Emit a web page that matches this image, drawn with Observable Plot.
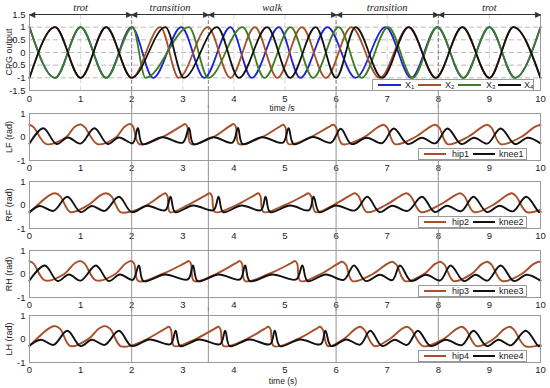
<!DOCTYPE html>
<html>
<head>
<meta charset="utf-8">
<script src="https://cdn.jsdelivr.net/npm/d3@7"></script>
<script src="https://cdn.jsdelivr.net/npm/@observablehq/plot@0.6"></script>
<style>
html,body{margin:0;padding:0;background:#fff;}
#wrap{position:relative;width:550px;height:388px;overflow:hidden;font-family:"Liberation Sans",Arial,sans-serif;color:#222;}
#wrap svg{position:absolute;left:0;overflow:hidden;}
.ytitle{position:absolute;font-size:9px;white-space:nowrap;line-height:1;transform:translate(-50%,-50%) rotate(-90deg);}
.xtitle{position:absolute;font-size:8.5px;white-space:nowrap;line-height:1;transform:translate(-50%,-50%);}
.leg{position:absolute;background:#fff;border:1px solid #9a9a9a;box-sizing:border-box;font-size:9px;}
.leg .ln{position:absolute;height:0;border-top:2px solid;top:50%;margin-top:-1px;}
.leg .tx{position:absolute;top:50%;transform:translateY(-50%);white-space:nowrap;line-height:1;}
.leg sub{font-size:6px;vertical-align:-1px;}
</style>
</head>
<body>
<div id="wrap"></div>
<script>
// ---------- data ----------
const timeTicks = [0,1,2,3,4,5,6,7,8,9,10];
const cpgTicks = [-1.5,-1,-0.5,0,0.5,1,1.5];
const cpgGrid = [-1,-0.5,0,0.5,1];
const timeGrid = [1,2,3,4,5,6,7,8,9];
const jointTicks = [-1,0,1];
const phaseNames = ["trot","transition","walk","transition","trot"];
const phaseStart = [0,2,3.5,6,8];
const phaseEnd = [2,3.5,6,8,10];
const phaseBounds = [2,3.5,6,8];

const cpgX1 = [[0,1],[0.5,-1],[1,1],[1.5,-1],[2,1],[2.42,-1],[2.97,1],[3.42,-1],[3.93,1],[4.35,-1],[4.88,1],[5.3,-1],[5.83,1],[6.38,-1],[6.97,1],[7.47,-1],[7.98,1],[8.49,-1],[9,1],[9.5,-1],[10,1]];
const cpgX2 = [[0,-1],[0.5,1],[1,-1],[1.5,1],[2,-1],[2.56,1],[2.92,-1],[3.49,1],[3.93,-1],[4.41,1],[4.85,-1],[5.33,1],[5.8,-1],[6.3,1],[6.85,-1],[7.42,1],[7.95,-1],[8.47,1],[9,-1],[9.47,1],[10,-1]];
const cpgX3 = [[0,1],[0.5,-1],[1,1],[1.5,-1],[2.02,1],[2.27,-1],[3.12,1],[3.5,-1],[4.17,1],[4.6,-1],[5.11,1],[5.55,-1],[6.05,1],[6.5,-1],[7.02,1],[7.5,-1],[7.98,1],[8.49,-1],[9,1],[9.5,-1],[10,1]];
const cpgX4 = [[0,-1],[0.5,1],[1,-1],[1.5,1],[2,-1],[2.66,1],[3.02,-1],[3.67,1],[4.1,-1],[4.65,1],[5.1,-1],[5.6,1],[6.0,-1],[6.38,1],[6.9,-1],[7.42,1],[7.95,-1],[8.47,1],[9,-1],[9.47,1],[10,-1]];

const hip1 = [[0,0.53],[0.08,0.42],[0.33,-0.3],[0.72,0.0],[0.88,0.43],[1.0,0.53],[1.08,0.42],[1.33,-0.3],[1.7,0.0],[1.86,0.44],[1.98,0.55],[2.03,0.43],[2.15,-0.3],[2.6,0.0],[2.96,0.45],[3.05,0.55],[3.09,0.42],[3.16,-0.3],[3.6,0.0],[3.91,0.45],[4.0,0.55],[4.04,0.42],[4.1,-0.3],[4.55,0.0],[4.88,0.42],[4.97,0.52],[5.01,0.4],[5.07,-0.3],[5.5,0.0],[5.85,0.42],[5.95,0.52],[6.0,0.4],[6.12,-0.3],[6.55,0.0],[6.82,0.42],[6.93,0.52],[7.0,0.4],[7.15,-0.3],[7.55,0.0],[7.83,0.42],[7.94,0.52],[8.02,0.4],[8.18,-0.3],[8.58,0.0],[8.85,0.42],[8.96,0.52],[9.04,0.4],[9.22,-0.3],[9.62,0.0],[9.88,0.42],[10,0.52]];
const knee1 = [[0,-0.28],[0.27,0.37],[0.53,-0.3],[0.75,-0.02],[1.0,-0.28],[1.27,0.37],[1.53,-0.3],[1.75,-0.02],[2.02,-0.26],[2.12,0.38],[2.21,-0.3],[2.6,-0.01],[3.0,-0.24],[3.12,0.38],[3.21,-0.3],[3.6,-0.01],[3.97,-0.24],[4.08,0.38],[4.17,-0.3],[4.55,-0.01],[4.96,-0.24],[5.07,0.37],[5.17,-0.3],[5.55,0.0],[5.9,-0.24],[6.09,0.35],[6.3,-0.3],[6.6,-0.03],[6.9,-0.26],[7.13,0.36],[7.4,-0.3],[7.68,-0.03],[7.94,-0.27],[8.18,0.36],[8.45,-0.3],[8.7,-0.03],[8.96,-0.28],[9.22,0.36],[9.5,-0.3],[9.75,-0.03],[10,-0.27]];
const hip2 = [[0,-0.33],[0.38,0.4],[0.5,0.5],[0.6,0.38],[0.8,-0.3],[1.15,0.0],[1.38,0.4],[1.5,0.5],[1.6,0.38],[1.78,-0.3],[2.0,-0.27],[2.3,0.0],[2.57,0.4],[2.66,0.5],[2.7,0.38],[2.75,-0.3],[3.1,0.0],[3.44,0.4],[3.53,0.5],[3.57,0.38],[3.63,-0.3],[4.05,0.0],[4.39,0.4],[4.48,0.5],[4.52,0.38],[4.58,-0.3],[5.0,0.0],[5.37,0.4],[5.46,0.5],[5.51,0.38],[5.6,-0.3],[5.95,0.0],[6.27,0.4],[6.37,0.5],[6.44,0.38],[6.6,-0.3],[6.97,0.0],[7.27,0.4],[7.38,0.5],[7.46,0.38],[7.66,-0.3],[8.02,0.0],[8.32,0.4],[8.43,0.5],[8.51,0.38],[8.7,-0.3],[9.07,0.0],[9.33,0.4],[9.44,0.5],[9.52,0.38],[9.73,-0.3],[10,-0.2]];
const knee2 = [[0,-0.3],[0.2,-0.04],[0.47,-0.25],[0.74,0.35],[1.0,-0.3],[1.22,-0.04],[1.47,-0.25],[1.75,0.35],[2.0,-0.3],[2.3,-0.03],[2.66,-0.22],[2.76,0.35],[2.85,-0.3],[3.2,-0.02],[3.6,-0.22],[3.7,0.35],[3.79,-0.3],[4.15,-0.02],[4.53,-0.22],[4.62,0.35],[4.71,-0.3],[5.1,-0.02],[5.47,-0.22],[5.56,0.35],[5.67,-0.3],[6.0,-0.02],[6.37,-0.23],[6.61,0.35],[6.85,-0.3],[7.1,-0.03],[7.4,-0.25],[7.68,0.35],[7.93,-0.3],[8.17,-0.03],[8.45,-0.26],[8.69,0.35],[8.95,-0.3],[9.2,-0.03],[9.46,-0.27],[9.72,0.35],[9.97,-0.3],[10,-0.29]];
const hip3 = [[0,0.55],[0.08,0.44],[0.3,-0.27],[0.68,0.0],[0.88,0.45],[1.0,0.55],[1.08,0.44],[1.3,-0.27],[1.68,0.0],[1.88,0.45],[2.0,0.55],[2.05,0.43],[2.13,-0.3],[2.6,0.0],[3.03,0.45],[3.12,0.55],[3.16,0.43],[3.22,-0.3],[3.65,0.0],[4.03,0.45],[4.12,0.55],[4.16,0.43],[4.22,-0.3],[4.68,0.0],[5.11,0.45],[5.2,0.55],[5.24,0.43],[5.3,-0.3],[5.7,0.0],[6.02,0.42],[6.12,0.52],[6.19,0.4],[6.32,-0.3],[6.72,0.0],[6.99,0.42],[7.1,0.52],[7.18,0.4],[7.35,-0.3],[7.72,0.0],[7.93,0.42],[8.04,0.52],[8.12,0.4],[8.3,-0.3],[8.65,0.0],[8.85,0.42],[8.96,0.52],[9.04,0.4],[9.25,-0.3],[9.63,0.0],[9.86,0.42],[9.97,0.52],[10,0.51]];
const knee3 = [[0,-0.28],[0.3,0.36],[0.55,-0.3],[0.77,-0.02],[1.0,-0.28],[1.3,0.36],[1.55,-0.3],[1.77,-0.02],[2.02,-0.25],[2.14,0.36],[2.23,-0.3],[2.65,-0.02],[3.1,-0.23],[3.2,0.36],[3.29,-0.3],[3.7,-0.02],[4.12,-0.23],[4.22,0.36],[4.31,-0.3],[4.75,-0.02],[5.22,-0.23],[5.34,0.36],[5.44,-0.3],[5.8,-0.02],[6.15,-0.25],[6.35,0.36],[6.58,-0.3],[6.86,-0.03],[7.1,-0.26],[7.25,0.36],[7.47,-0.3],[7.76,-0.03],[8.04,-0.27],[8.24,0.36],[8.5,-0.3],[8.73,-0.03],[8.96,-0.28],[9.22,0.36],[9.48,-0.3],[9.73,-0.03],[10,-0.28]];
const hip4 = [[0,-0.3],[0.38,0.45],[0.5,0.55],[0.6,0.43],[0.8,-0.3],[1.15,0.0],[1.36,0.45],[1.48,0.55],[1.58,0.43],[1.78,-0.3],[2.0,-0.27],[2.3,0.0],[2.64,0.42],[2.73,0.52],[2.77,0.4],[2.83,-0.3],[3.25,0.0],[3.61,0.42],[3.7,0.52],[3.74,0.4],[3.8,-0.3],[4.25,0.0],[4.59,0.42],[4.68,0.52],[4.72,0.4],[4.78,-0.3],[5.25,0.0],[5.6,0.42],[5.69,0.52],[5.74,0.4],[5.84,-0.3],[6.15,0.0],[6.37,0.42],[6.47,0.52],[6.55,0.4],[6.75,-0.3],[7.05,0.0],[7.28,0.42],[7.39,0.52],[7.47,0.4],[7.7,-0.3],[8.1,0.0],[8.35,0.42],[8.46,0.52],[8.54,0.4],[8.75,-0.3],[9.08,0.0],[9.29,0.42],[9.4,0.52],[9.48,0.4],[9.7,-0.3],[10,-0.25]];
const knee4 = [[0,-0.28],[0.22,-0.03],[0.47,-0.25],[0.74,0.35],[1.0,-0.3],[1.22,-0.03],[1.47,-0.25],[1.75,0.35],[2.0,-0.3],[2.35,-0.02],[2.76,-0.22],[2.86,0.35],[2.95,-0.3],[3.32,-0.02],[3.73,-0.22],[3.83,0.35],[3.92,-0.3],[4.3,-0.02],[4.71,-0.22],[4.8,0.35],[4.9,-0.3],[5.3,-0.02],[5.7,-0.22],[5.79,0.35],[5.9,-0.3],[6.2,-0.02],[6.47,-0.24],[6.67,0.35],[6.9,-0.3],[7.15,-0.03],[7.39,-0.25],[7.6,0.35],[7.85,-0.3],[8.15,-0.03],[8.46,-0.26],[8.69,0.35],[8.95,-0.3],[9.18,-0.03],[9.42,-0.27],[9.71,0.35],[9.96,-0.3],[10,-0.29]];

const cpgNames = ["X1","X2","X3","X4"];
const cpgColors = ["#1e22d2","#a8502a","#3c7d22","#111111"];
const hipColor = "#a8502a", kneeColor = "#111111";

// ---------- drawing ----------
const wrap = document.getElementById("wrap");
const phases = phaseNames.map((name,i)=>({name, start:phaseStart[i], end:phaseEnd[i]}));
const fx = d => d[0], fy = d => d[1];
const fontFam = "Liberation Sans, Arial, sans-serif";
const xOpt = (pad) => ({domain:[0,10], ticks:timeTicks, tickSize:0, tickPadding:pad, tickFormat:d=>String(d), label:null});

function place(svg, top){ svg.style.top = top + "px"; wrap.appendChild(svg); }

// Panel 1: CPG output
const cpgSeries = [cpgX1,cpgX2,cpgX3,cpgX4];
const p1 = Plot.plot({
  width:550, height:108, marginLeft:29, marginRight:10, marginTop:14, marginBottom:18,
  style:{background:"transparent", fontSize:"9.5px", fontFamily:fontFam, color:"#222"},
  x:xOpt(5),
  y:{domain:[-1.5,1.5], ticks:cpgTicks, tickSize:0, tickPadding:4, tickFormat:d=>String(d), label:null},
  marks:[
    Plot.ruleY(cpgGrid, {stroke:"#aaa", strokeDasharray:"5,3", strokeWidth:0.8}),
    Plot.ruleX(timeGrid, {stroke:"#ccc", strokeDasharray:"5,3", strokeWidth:0.8}),
    Plot.ruleX(phaseBounds, {y1:1.5, y2:-1.5, stroke:"#777", strokeDasharray:"4,2", strokeWidth:0.9}),
    Plot.ruleX(phaseBounds, {y1:-1.5, y2:-3, stroke:"#888", strokeWidth:0.9}),
    ...cpgSeries.map((s,i)=>Plot.line(s, {x:fx, y:fy, stroke:cpgColors[i], strokeWidth:1.8, curve:"monotone-x"})),
    Plot.frame({stroke:"#9a9a9a"}),
    Plot.link(phases, {x1:"start", x2:"end", y1:1.5, y2:1.5, stroke:"#333", strokeWidth:1}),
    Plot.text(phases, {x:"start", y:1.5, text:()=>"◀", textAnchor:"start", fontSize:8, fill:"#333", dx:-0.5}),
    Plot.text(phases, {x:"end", y:1.5, text:()=>"▶", textAnchor:"end", fontSize:8, fill:"#333", dx:0.5}),
    Plot.text(phases, {x:d=>(d.start+d.end)/2, y:1.5, dy:-7, text:"name", fontStyle:"italic", fontFamily:"Liberation Serif, Times New Roman, serif", fontSize:10.5, fill:"#222"})
  ]
});
place(p1, 0);

// Joint panels
const joints = [
  {title:"LF (rad)", hip:hip1, knee:knee1, hl:"hip1", kl:"knee1", top:105},
  {title:"RF (rad)", hip:hip2, knee:knee2, hl:"hip2", kl:"knee2", top:173},
  {title:"RH (rad)", hip:hip3, knee:knee3, hl:"hip3", kl:"knee3", top:242},
  {title:"LH (rad)", hip:hip4, knee:knee4, hl:"hip4", kl:"knee4", top:307}
];
joints.forEach((j, idx) => {
  const last = idx === joints.length - 1;
  const svg = Plot.plot({
    width:550, height:69, marginLeft:29, marginRight:10, marginTop:8, marginBottom:14,
    style:{background:"transparent", fontSize:"9.5px", fontFamily:fontFam, color:"#222"},
    x:xOpt(4),
    y:{domain:[-1,1], ticks:jointTicks, tickSize:0, tickPadding:4, tickFormat:d=>String(d), label:null},
    marks:[
      Plot.ruleX(phaseBounds, {y1:3, y2: last ? -1 : -3, stroke:"#888", strokeWidth:0.9}),
      Plot.line(j.hip, {x:fx, y:fy, stroke:hipColor, strokeWidth:1.9, curve:"catmull-rom"}),
      Plot.line(j.knee, {x:fx, y:fy, stroke:kneeColor, strokeWidth:1.9, curve:"catmull-rom"}),
      Plot.frame({stroke:"#9a9a9a"})
    ]
  });
  place(svg, j.top);
  const areaTop = j.top + 8;
  const t = document.createElement("div");
  t.className = "ytitle"; t.textContent = j.title;
  t.style.left = "9px"; t.style.top = (areaTop + 23.5) + "px";
  wrap.appendChild(t);
  const lg = document.createElement("div");
  lg.className = "leg";
  lg.style.left = "418px"; lg.style.top = (areaTop + 35) + "px";
  lg.style.width = "109px"; lg.style.height = "12px";
  lg.innerHTML =
    `<span class="ln" style="left:5px;width:22px;border-color:${hipColor}"></span>` +
    `<span class="tx" style="left:33px">${j.hl}</span>` +
    `<span class="ln" style="left:54px;width:22px;border-color:${kneeColor}"></span>` +
    `<span class="tx" style="left:80px">${j.kl}</span>`;
  wrap.appendChild(lg);
});

const y1t = document.createElement("div");
y1t.className = "ytitle"; y1t.textContent = "CPG output";
y1t.style.left = "9px"; y1t.style.top = "52px";
wrap.appendChild(y1t);

const xt1 = document.createElement("div");
xt1.className = "xtitle"; xt1.textContent = "time /s";
xt1.style.left = "282px"; xt1.style.top = "108px";
wrap.appendChild(xt1);

const xt2 = document.createElement("div");
xt2.className = "xtitle"; xt2.textContent = "time (s)";
xt2.style.left = "283px"; xt2.style.top = "381px";
wrap.appendChild(xt2);

const lg1 = document.createElement("div");
lg1.className = "leg";
lg1.style.left = "372px"; lg1.style.top = "79px"; lg1.style.width = "162px"; lg1.style.height = "12px";
const lx = [[5,32],[45,72],[85,113],[125,151]];
lg1.innerHTML = cpgNames.map((n,i)=>
  `<span class="ln" style="left:${lx[i][0]}px;width:23px;border-color:${cpgColors[i]}"></span>` +
  `<span class="tx" style="left:${lx[i][1]}px">X<sub>${n.slice(1)}</sub></span>`).join("");
wrap.appendChild(lg1);
</script>
</body>
</html>
